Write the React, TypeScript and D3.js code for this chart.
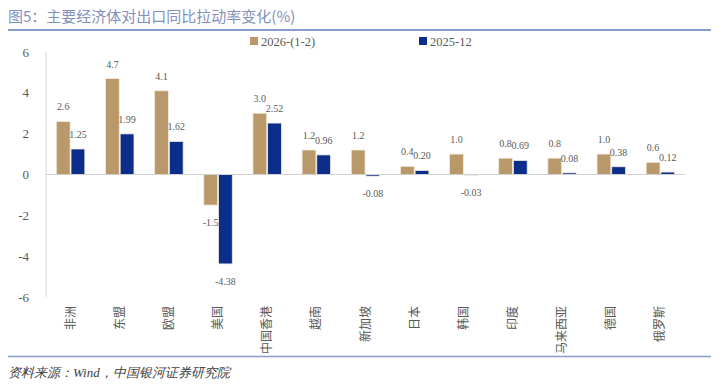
import React from "react";
import * as d3 from "d3";

const categories = ["非洲", "东盟", "欧盟", "美国", "中国香港", "越南", "新加坡", "日本", "韩国", "印度", "马来西亚", "德国", "俄罗斯"];
const series2026 = [2.6, 4.7, 4.1, -1.5, 3.0, 1.2, 1.2, 0.4, 1.0, 0.8, 0.8, 1.0, 0.6];
const series2025 = [1.25, 1.99, 1.62, -4.38, 2.52, 0.96, -0.08, 0.2, -0.03, 0.69, 0.08, 0.38, 0.12];
const yTicks = [-6, -4, -2, 0, 2, 4, 6];
const seriesNames = ["2026-(1-2)", "2025-12"];

const W = 720;
const H = 385;
const GOLD = "#B9996A";
const BLUE = "#0B2E8A";
const GREY = "#595959";
const SERIF = "'Liberation Serif', 'DejaVu Serif', serif";
const SANS = "'Noto Sans CJK SC', 'Noto Sans', sans-serif";

const locale = d3.formatLocale({ decimal: ".", thousands: ",", grouping: [3], currency: ["", ""], minus: "-" });

export default function App() {
  const plotLeft = 46;
  const plotRight = 685;
  const x = d3.scaleBand<string>().domain(categories).range([plotLeft, plotRight]).paddingInner(0.42).paddingOuter(0.21);
  const y = d3.scaleLinear().domain([-6, 6]).range([297, 52]);
  const inner = d3.scaleBand<number>().domain([0, 1]).range([0, x.bandwidth()]).paddingInner(0.06);
  const series = [
    { name: seriesNames[0], values: series2026, color: GOLD, fmt: locale.format(".1f") },
    { name: seriesNames[1], values: series2025, color: BLUE, fmt: locale.format(".2f") },
  ];

  return (
    <svg width={W} height={H} style={{ position: "absolute", left: 0, top: 0, background: "#fff" }}>
      <text x={8} y={22} fontFamily={SANS} fontSize={15} fill="#8390BD">
        图5：主要经济体对出口同比拉动率变化(%)
      </text>
      <line x1={8} x2={711} y1={30} y2={30} stroke="#8A9CCB" strokeWidth={2} />

      {/* legend */}
      {series.map((s, i) => {
        const lx = i === 0 ? 250 : 419;
        return (
          <g key={s.name}>
            <rect x={lx} y={37} width={8} height={8} fill={s.color} />
            <text x={lx + 11} y={46} fontFamily={SERIF} fontSize={12.5} fill={GREY}>
              {s.name}
            </text>
          </g>
        );
      })}

      {/* y axis */}
      <line x1={plotLeft} x2={plotLeft} y1={y(6)} y2={y(-6)} stroke="#D9D9D9" strokeWidth={1} />
      {yTicks.map((t) => (
        <text key={t} x={29} y={y(t) + 4.5} textAnchor="end" fontFamily={SERIF} fontSize={13} fill={GREY}>
          {t}
        </text>
      ))}

      {/* bars */}
      {series.map((s, si) =>
        categories.map((c, ci) => {
          const v = s.values[ci];
          const bx = (x(c) as number) + (inner(si) as number);
          const bw = inner.bandwidth();
          const y0 = y(0);
          const y1 = y(v);
          return (
            <rect
              key={`${si}-${ci}`}
              x={bx}
              y={Math.min(y0, y1)}
              width={bw}
              height={Math.max(Math.abs(y1 - y0), 0.6)}
              fill={s.color}
              stroke="#F3EBDD"
              strokeWidth={0.8}
            />
          );
        })
      )}

      <line x1={plotLeft} x2={plotRight} y1={y(0)} y2={y(0)} stroke="#D0D0D0" strokeWidth={1} />

      {/* data labels */}
      {series.map((s, si) =>
        categories.map((c, ci) => {
          const v = s.values[ci];
          const cx = (x(c) as number) + (inner(si) as number) + inner.bandwidth() / 2;
          const ly = v >= 0 ? y(v) - 11 : y(v) + 21;
          return (
            <text key={`l-${si}-${ci}`} x={cx} y={ly} textAnchor="middle" fontFamily={SERIF} fontSize={10} fill={GREY}>
              {s.fmt(v)}
            </text>
          );
        })
      )}

      {/* x labels */}
      {categories.map((c) => {
        const cx = (x(c) as number) + x.bandwidth() / 2 + 4;
        return (
          <text
            key={c}
            transform={`translate(${cx},306) rotate(-90)`}
            textAnchor="end"
            fontFamily={SANS}
            fontSize={12}
            fill={GREY}
          >
            {c}
          </text>
        );
      })}

      <line x1={8} x2={711} y1={356.5} y2={356.5} stroke="#8A9CCB" strokeWidth={1.5} />
      <text x={8} y={377} fontFamily={SERIF} fontStyle="italic" fontSize={13} fill="#404040">
        资料来源：Wind，中国银河证券研究院
      </text>
    </svg>
  );
}
